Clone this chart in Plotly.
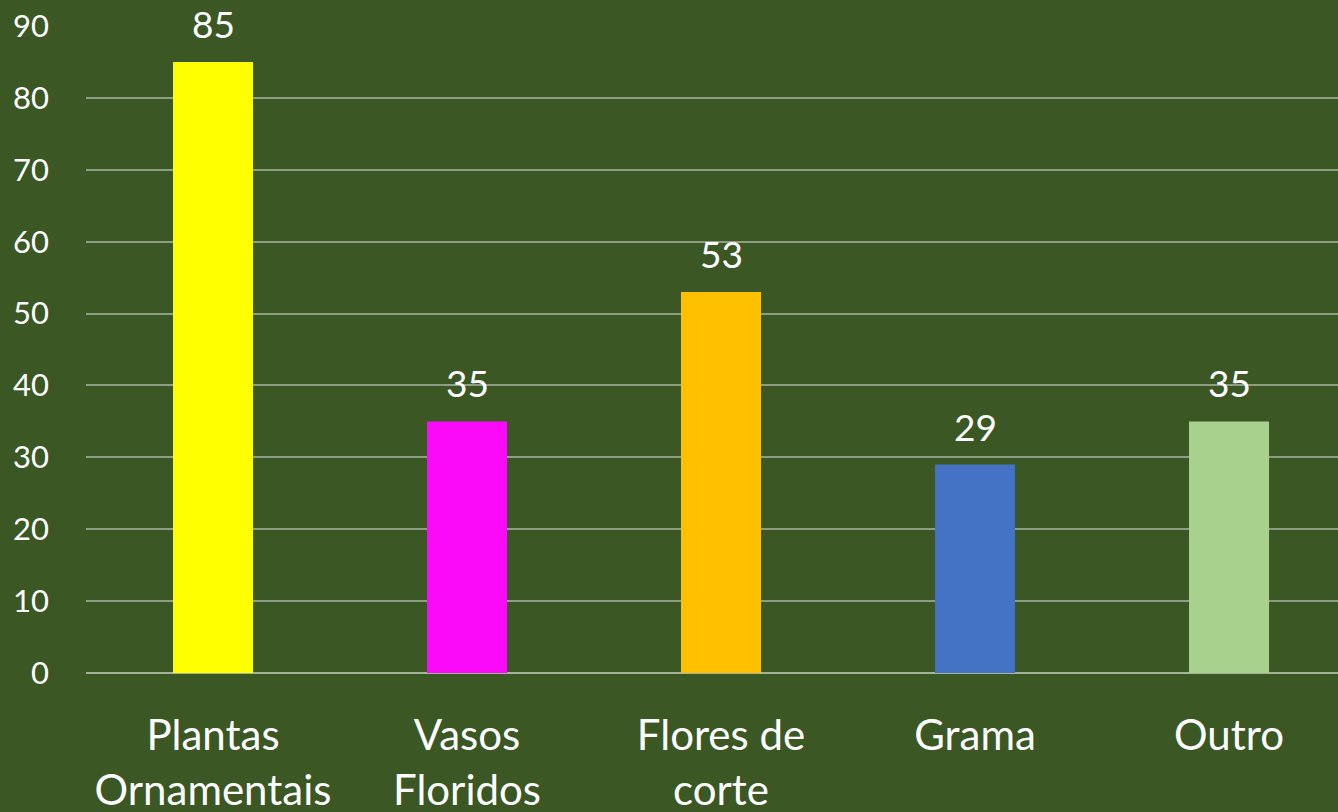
import plotly.graph_objects as go

categories = ["Plantas<br>Ornamentais", "Vasos<br>Floridos", "Flores de<br>corte", "Grama", "Outro"]
values = [85, 35, 53, 29, 35]
colors = ["#FFFF00", "#FA0AF8", "#FFC000", "#4472C4", "#A9D18E"]
y_ticks = [0, 10, 20, 30, 40, 50, 60, 70, 80, 90]

BG = "#3A5724"
FONT = "Lato"

fig = go.Figure()
fig.add_trace(go.Bar(
    x=categories, y=values, marker=dict(color=colors, line=dict(width=0)),
    hoverinfo="skip",
))

for c, v in zip(categories, values):
    fig.add_annotation(x=c, y=v, text=str(v), showarrow=False,
                       yanchor="bottom", yshift=14,
                       font=dict(family=FONT, size=37, color="white"))

fig.update_layout(
    width=1338, height=812,
    paper_bgcolor=BG, plot_bgcolor=BG,
    margin=dict(l=86, r=0, t=26, b=139, pad=0, autoexpand=False),
    bargap=0.685,
    showlegend=False,
    font=dict(family=FONT, color="white"),
)
fig.update_xaxes(
    range=[-0.5, 4.429],
    showgrid=False, zeroline=False,
    showline=False, automargin=False,
    tickfont=dict(family=FONT, size=42, color="white"),
    ticks="", ticklabelstandoff=34,
)
fig.update_yaxes(
    range=[0, 90], tickvals=y_ticks,
    showgrid=True, gridcolor="#8E9E84", gridwidth=2,
    zeroline=True, zerolinecolor="#A5B39B", zerolinewidth=2,
    showline=False, ticks="", automargin=False,
    tickfont=dict(family=FONT, size=31, color="white"),
    ticklabelstandoff=36,
)
fig.write_html(
    "out.html",
    config={"displayModeBar": False},
    post_script="document.body.style.margin='0';document.body.style.background='#3A5724';document.body.style.overflow='hidden';",
)
